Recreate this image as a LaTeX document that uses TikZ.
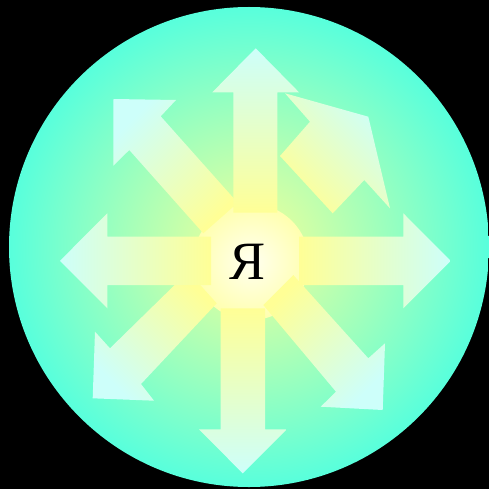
\documentclass[tikz,border=0pt]{standalone}
\usepackage{fontspec}
\newfontfamily\yafont{Liberation Serif}
\definecolor{bgin}{RGB}{245,255,150}
\definecolor{bgout}{RGB}{88,255,220}
\definecolor{arrbase}{RGB}{255,255,150}
\definecolor{arrtip}{RGB}{205,255,250}
\definecolor{diskin}{RGB}{255,255,240}
\definecolor{diskout}{RGB}{255,255,175}
\pgfdeclareradialshading{bgshade}{\pgfpoint{0bp}{0bp}}{color(0bp)=(bgin); color(25bp)=(bgout); color(50bp)=(bgout)}
\pgfdeclareradialshading{diskshade}{\pgfpoint{0bp}{0bp}}{color(0bp)=(diskin); color(25bp)=(diskout); color(50bp)=(diskout)}
\tikzset{
  arrowshape/.style={shading=axis, bottom color=arrbase, top color=arrtip, middle color=arrbase!50!arrtip, shading angle=#1}
}
\begin{document}
\begin{tikzpicture}[x=1pt,y=-1pt]
\fill[black] (0,0) rectangle (489,489);
\useasboundingbox (0,0) rectangle (489,489);
\coordinate (c) at (249,247);
\shade[shading=bgshade] (c) circle[radius=240];
\shade[shading=diskshade] (251,262) circle[radius=58];
% diagonal arrows
\shade[arrowshape=45] (113.5,99) -- (176,100) -- (160.7,116.3) -- (237.7,202.8) -- (203.3,233.3) -- (129.3,150) -- (113.3,165.7) -- cycle;
\shade[arrowshape=-45] (285,93.3) -- (368.3,116.7) -- (390,208.3) -- (364.3,180) -- (332.7,213.3) -- (280,156) -- (310,121.7) -- cycle;
\shade[arrowshape=135] (188.3,271.7) -- (110,348.3) -- (95,331.7) -- (92.7,398.3) -- (154,400.7) -- (141,384) -- (216.7,303.3) -- cycle;
\shade[arrowshape=-135] (293.3,275) -- (368.3,358.3) -- (385,343.3) -- (382.7,410) -- (320.7,406.7) -- (336,391.7) -- (263.3,305) -- cycle;
% straight arrows
\shade[arrowshape=0] (255.7,48.3) -- (299,92.3) -- (277.3,92.3) -- (277.3,212.7) -- (233.3,212.7) -- (233.3,92.3) -- (212.3,92.3) -- cycle;
\shade[arrowshape=-90] (450.7,260.8) -- (403.3,308.3) -- (403.3,285) -- (299,285) -- (299,236.7) -- (403.3,236.7) -- (403.3,213.3) -- cycle;
\shade[arrowshape=90] (60,260.8) -- (107.3,213.3) -- (107.3,236.7) -- (211,236.7) -- (211,285) -- (107.3,285) -- (107.3,308.3) -- cycle;
\shade[arrowshape=180] (242.7,473.3) -- (199,429.3) -- (220.7,429.3) -- (220.7,308.3) -- (265,308.3) -- (265,429.3) -- (286.7,429.3) -- cycle;
\node[inner sep=0pt, font=\yafont\fontsize{54}{60}\selectfont] (ya) at (248,261.5) {Я};
\end{tikzpicture}
\end{document}
